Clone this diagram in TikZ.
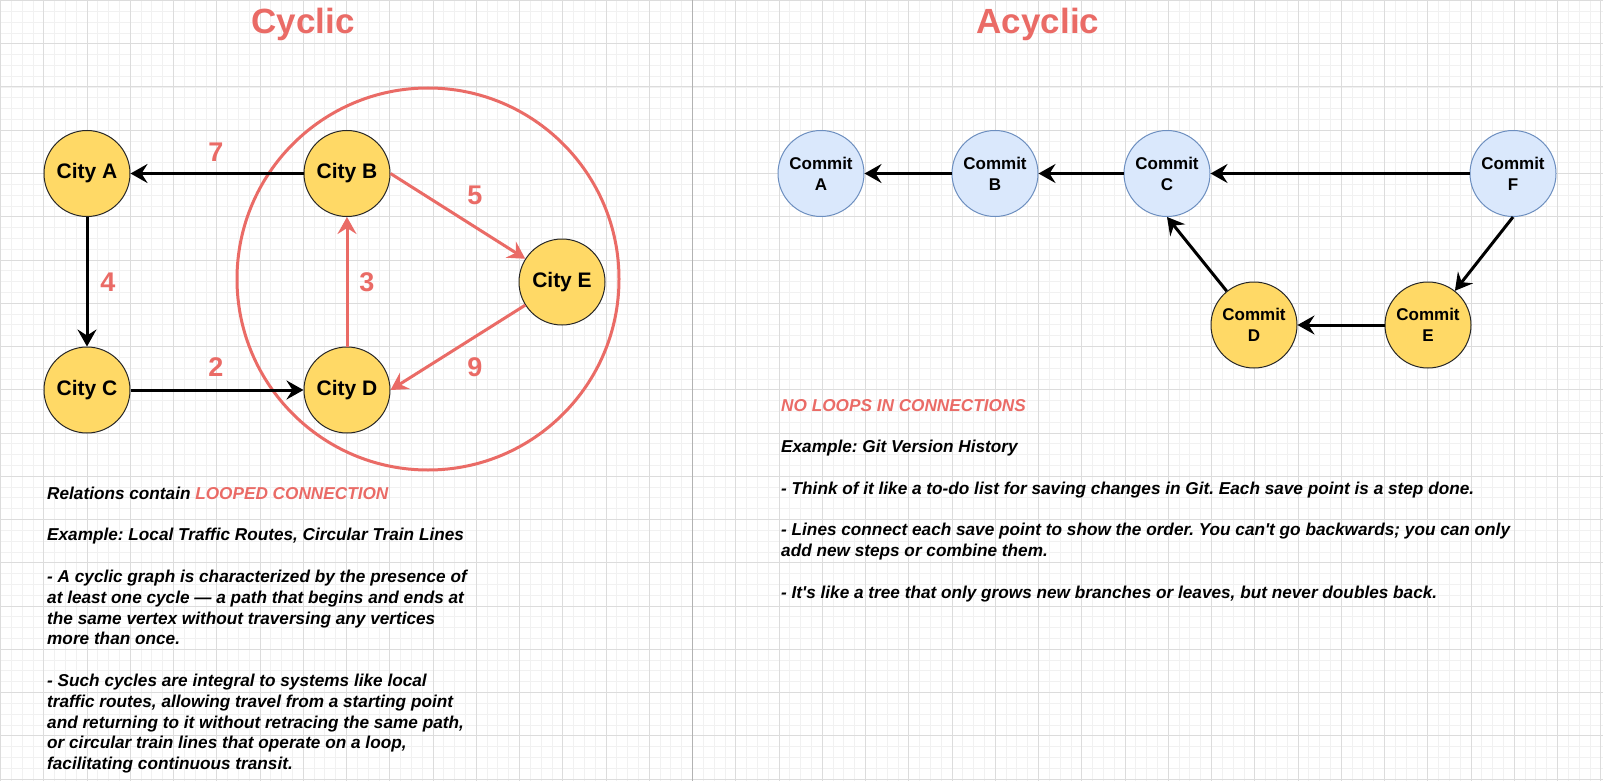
\documentclass[tikz,border=0pt]{standalone}
\usepackage{fontspec}
\setmainfont{Liberation Sans}
\newfontfamily\notefont{Liberation Sans}
\usetikzlibrary{arrows.meta}

\definecolor{cityyellow}{HTML}{FFD966}
\definecolor{commitblue}{HTML}{DAE8FC}
\definecolor{commitline}{HTML}{6C8EBF}
\definecolor{loopred}{HTML}{EA6B66}
\definecolor{minorgray}{HTML}{F1F1F1}
\definecolor{majorgray}{HTML}{DCDCDC}

\tikzset{
  city/.style={circle, draw=black!85, line width=1pt, fill=cityyellow, minimum size=86pt,
    inner sep=0pt, font=\fontsize{21}{24}\selectfont\bfseries},
  commit/.style={circle, draw=commitline, line width=1pt, fill=commitblue, minimum size=86pt,
    inner sep=0pt, align=center, font=\fontsize{17}{21}\selectfont\bfseries},
  merged/.style={commit, draw=black!85, fill=cityyellow},
  link/.style={draw=black, line width=3pt, -{Stealth[length=17pt,width=19pt,inset=6pt]}},
  looplink/.style={link, draw=loopred, line width=3pt},
  weight/.style={text=loopred, font=\fontsize{27}{30}\selectfont\bfseries, inner sep=0pt},
  heading/.style={text=loopred, font=\fontsize{35}{40}\selectfont\bfseries, inner sep=0pt, anchor=base},
  notes/.style={align=left, inner sep=0pt, anchor=north west,
    font=\notefont\fontsize{17.2}{20.8}\selectfont\bfseries\itshape\frenchspacing},
  minorgrid/.style={draw=minorgray, line width=0.8pt},
  majorgrid/.style={draw=majorgray, line width=1pt},
}

\begin{document}
\begin{tikzpicture}[x=1pt, y=-1pt]
  \useasboundingbox (0,0) rectangle (1603,781);
  \fill[white] (0,0) rectangle (1603,781);

  % Background grid
  \foreach \k in {0,...,148} \draw[minorgrid] ({\k*10.8125+0.5},0) -- ({\k*10.8125+0.5},781);
  \foreach \k in {0,...,72} \draw[minorgrid] (0,{\k*10.8125+0.5}) -- (1603,{\k*10.8125+0.5});
  \foreach \k in {0,...,37} \draw[majorgrid] ({\k*43.25+0.5},0) -- ({\k*43.25+0.5},781);
  \foreach \k in {0,...,18} \draw[majorgrid] (0,{\k*43.25+0.5}) -- (1603,{\k*43.25+0.5});
  \draw[draw=black!30, line width=1pt] (692.5,0) -- (692.5,781);

  % Titles
  \node[heading] (cyctitle) at (303,33.5) {Cyclic};
  \node[heading] (acyctitle) at (1038,33.5) {Acyclic};

  % Loop around the cycle
  \draw[draw=loopred, line width=3pt] (428,279) circle [radius=191pt];

  % Cities
  \node[city] (cityA) at (87,173.5) {City A};
  \node[city] (cityB) at (347,173.5) {City B};
  \node[city] (cityC) at (87,390) {City C};
  \node[city] (cityD) at (347,390) {City D};
  \node[city] (cityE) at (562,282) {City E};

  % Routes
  \draw[link] (cityB) -- (cityA);
  \draw[link] (cityA) -- (cityC);
  \draw[link] (cityC) -- (cityD);
  \draw[looplink] (cityD) -- (cityB);
  \draw[looplink] (cityB.east) -- (cityE);
  \draw[looplink] (cityE) -- (cityD.east);

  % Weights
  \node[weight] (w7) at (216,152) {7};
  \node[weight] (w4) at (108,282) {4};
  \node[weight] (w2) at (216,367) {2};
  \node[weight] (w3) at (367,282) {3};
  \node[weight] (w5) at (475,195) {5};
  \node[weight] (w9) at (475,367) {9};

  % Commits
  \node[commit] (commitA) at (821,173.5) {Commit\\A};
  \node[commit] (commitB) at (995,173.5) {Commit\\B};
  \node[commit] (commitC) at (1167,173.5) {Commit\\C};
  \node[commit] (commitF) at (1513,173.5) {Commit\\F};
  \node[merged] (commitD) at (1254,325) {Commit\\D};
  \node[merged] (commitE) at (1428,325) {Commit\\E};

  % History
  \draw[link] (commitB) -- (commitA);
  \draw[link] (commitC) -- (commitB);
  \draw[link] (commitF) -- (commitC);
  \draw[link] (commitF.south) -- (commitE);
  \draw[link] (commitE) -- (commitD);
  \draw[link] (commitD) -- (commitC.south);

  % Notes
  \node[notes] (cycnotes) at (47,486.7) {Relations contain {\color{loopred}LOOPED CONNECTION}\\[20.8pt]
    Example: Local Traffic Routes, Circular Train Lines\\[20.8pt]
    - A cyclic graph is characterized by the presence of\\
    at least one cycle — a path that begins and ends at\\
    the same vertex without traversing any vertices\\
    more than once.\\[20.8pt]
    - Such cycles are integral to systems like local\\
    traffic routes, allowing travel from a starting point\\
    and returning to it without retracing the same path,\\
    or circular train lines that operate on a loop,\\
    facilitating continuous transit.};
  \node[notes] (acycnotes) at (781,398.8) {{\color{loopred}NO LOOPS IN CONNECTIONS}\\[20.8pt]
    Example: Git Version History\\[20.8pt]
    - Think of it like a to-do list for saving changes in Git. Each save point is a step done.\\[20.8pt]
    - Lines connect each save point to show the order. You can't go backwards; you can only\\
    add new steps or combine them.\\[20.8pt]
    - It's like a tree that only grows new branches or leaves, but never doubles back.};
\end{tikzpicture}
\end{document}
